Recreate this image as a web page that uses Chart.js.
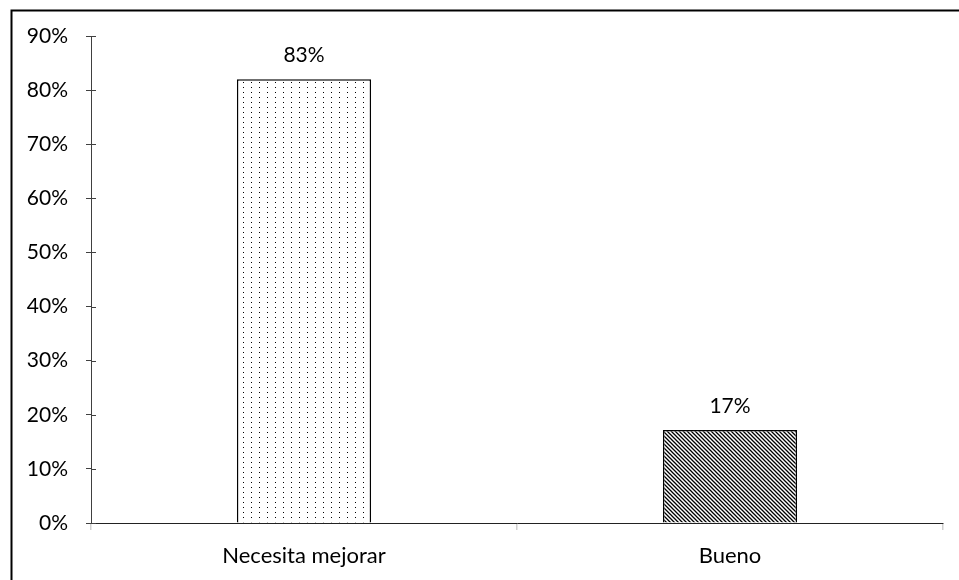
<!DOCTYPE html>
<html>
<head>
<meta charset="utf-8">
<script src="https://cdn.jsdelivr.net/npm/chart.js@4/dist/chart.umd.min.js"></script>
<style>
  html, body { margin: 0; padding: 0; background: #fff; }
  #wrap { width: 959px; height: 580px; position: relative; }
</style>
</head>
<body>
<div id="wrap"><canvas id="chart" width="959" height="580"></canvas></div>
<script>
// data
const categories = ['Necesita mejorar', 'Bueno'];
const values = [0.82, 0.172];
const valueLabels = ['83%', '17%'];
const yTicks = [0, 0.1, 0.2, 0.3, 0.4, 0.5, 0.6, 0.7, 0.8, 0.9];

const FONT = 'Lato, "Open Sans", sans-serif';

// fill patterns
const makeDots = () => {
    const c = document.createElement('canvas');
    c.width = 8; c.height = 5;
    const g = c.getContext('2d');
    g.fillStyle = '#fff';
    g.fillRect(0, 0, 8, 5);
    g.fillStyle = '#000';
    g.fillRect(3, 2, 1, 1);
    return g.createPattern(c, 'repeat');
};

const makeHatch = () => {
    const c = document.createElement('canvas');
    c.width = 4; c.height = 4;
    const g = c.getContext('2d');
    g.fillStyle = '#fff';
    g.fillRect(0, 0, 4, 4);
    g.strokeStyle = '#000';
    g.lineWidth = 1.3;
    g.beginPath();
    g.moveTo(-1, -1); g.lineTo(5, 5);
    g.moveTo(-1, 3); g.lineTo(1, 5);
    g.moveTo(3, -1); g.lineTo(5, 1);
    g.stroke();
    return g.createPattern(c, 'repeat');
};

// outer frame + tick marks crossing the y axis + value labels
const extras = {
    id: 'extras',
    beforeDraw(chart) {
        const ctx = chart.ctx;
        ctx.save();
        ctx.fillStyle = '#fff';
        ctx.fillRect(0, 0, chart.width, chart.height);
        ctx.strokeStyle = '#000';
        ctx.lineWidth = 2;
        ctx.beginPath();
        ctx.moveTo(11.5, chart.height + 2);
        ctx.lineTo(11.5, 10.5);
        ctx.lineTo(chart.width + 2, 10.5);
        ctx.stroke();
        ctx.restore();
    },
    afterDraw(chart) {
        const ctx = chart.ctx;
        const y = chart.scales.y;
        ctx.save();
        ctx.strokeStyle = '#404040';
        ctx.lineWidth = 1;
        yTicks.forEach(v => {
            const py = Math.round(y.getPixelForValue(v)) + 0.5;
            ctx.beginPath();
            ctx.moveTo(y.right, py);
            ctx.lineTo(y.right + 5, py);
            ctx.stroke();
        });
        ctx.fillStyle = '#000';
        ctx.font = '21px ' + FONT;
        ctx.textAlign = 'center';
        ctx.textBaseline = 'middle';
        chart.getDatasetMeta(0).data.forEach((bar, i) => {
            ctx.fillText(valueLabels[i], bar.x, bar.y - 24);
        });
        ctx.restore();
    }
};

const chart = new Chart(document.getElementById('chart').getContext('2d'), {
    type: 'bar',
    data: {
        labels: categories,
        datasets: [{
            data: values,
            backgroundColor: [makeDots(), makeHatch()],
            borderColor: '#000',
            borderWidth: 1.5,
            barPercentage: 0.315,
            categoryPercentage: 1
        }]
    },
    options: {
        responsive: false,
        animation: false,
        layout: { padding: { top: 36, right: 16, bottom: 0, left: 0 } },
        plugins: { legend: { display: false }, tooltip: { enabled: false } },
        scales: {
            x: {
                grid: { drawOnChartArea: false, offset: true, color: '#d0d0d0', tickLength: 7, lineWidth: 1.5 },
                border: { color: '#222', width: 1 },
                ticks: { color: '#000', font: { family: FONT, size: 22 }, padding: 13 },
                afterFit: s => { s.height = 57; }
            },
            y: {
                min: 0,
                max: 0.9,
                afterBuildTicks: s => { s.ticks = yTicks.map(v => ({ value: v })); },
                grid: { drawOnChartArea: false, color: '#404040', tickLength: 5 },
                border: { color: '#404040', width: 1 },
                ticks: {
                    color: '#000',
                    font: { family: FONT, size: 21 },
                    padding: 18,
                    callback: v => Math.round(v * 100) + '%'
                },
                afterFit: s => { s.width = 91; }
            }
        }
    },
    plugins: [extras]
});
</script>
</body>
</html>
